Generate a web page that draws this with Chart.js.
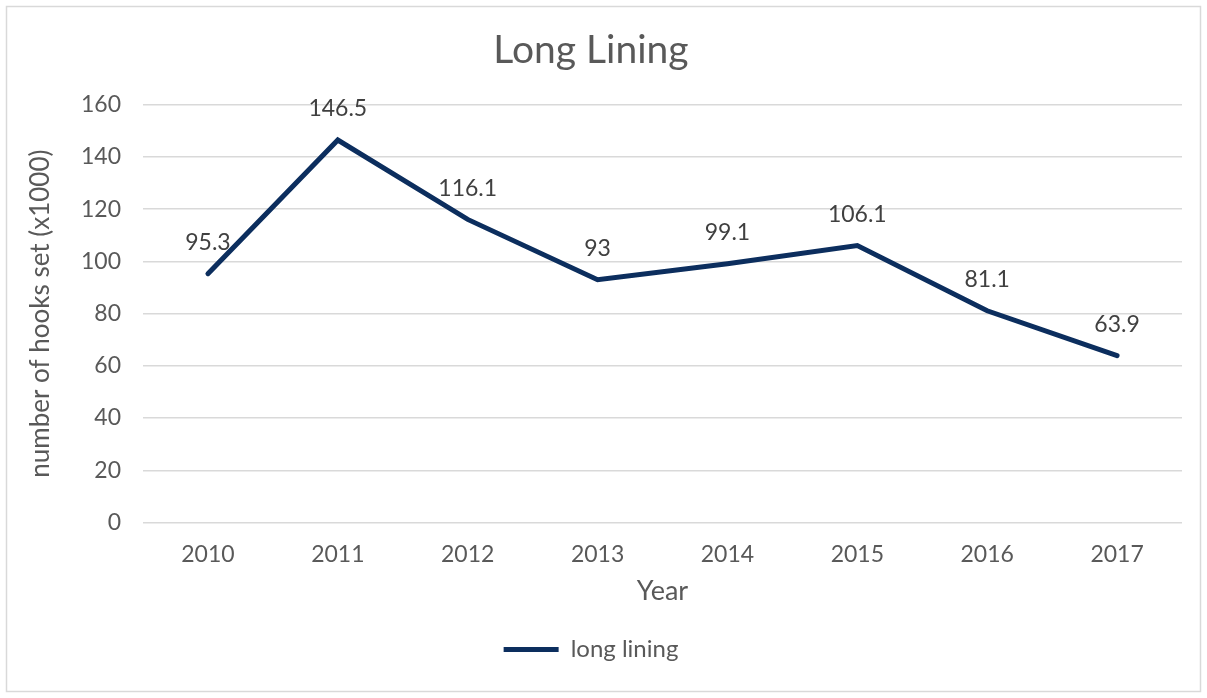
<!DOCTYPE html>
<html>
<head>
<meta charset="utf-8">
<script src="https://cdn.jsdelivr.net/npm/chart.js@4"></script>
<style>
  html, body { margin: 0; padding: 0; background: #fff; }
  #wrap { width: 1207px; height: 698px; position: relative; }
</style>
</head>
<body>
<div id="wrap"><canvas id="chart" width="1207" height="698"></canvas></div>
<script>
// ── Data ────────────────────────────────────
var years = ['2010', '2011', '2012', '2013', '2014', '2015', '2016', '2017'];
var hooks = [95.3, 146.5, 116.1, 93, 99.1, 106.1, 81.1, 63.9];
var yTicks = [0, 20, 40, 60, 80, 100, 120, 140, 160];

var FONT = 'Lato';
var GREY = '#595959';
var NAVY = '#0c2e5e';

// ── Plugins ─────────────────────────────────
var frame = {
  id: 'frame',
  beforeDraw: function(chart) {
    var c = chart.ctx;
    c.save();
    c.fillStyle = '#fff';
    c.fillRect(0, 0, chart.width, chart.height);
    c.strokeStyle = '#d9d9d9';
    c.lineWidth = 1.5;
    c.strokeRect(6.5, 6.5, chart.width - 13, chart.height - 13);
    c.restore();
  }
};

var valueLabels = {
  id: 'valueLabels',
  afterDatasetsDraw: function(chart) {
    var c = chart.ctx;
    var meta = chart.getDatasetMeta(0);
    c.save();
    c.font = '23px ' + FONT;
    c.fillStyle = '#404040';
    c.textAlign = 'center';
    c.textBaseline = 'middle';
    meta.data.forEach(function(pt, i) {
      c.fillText(String(hooks[i]), pt.x, pt.y - 31);
    });
    c.restore();
  }
};

new Chart(document.getElementById('chart'), {
  type: 'line',
  data: {
    labels: years,
    datasets: [{
      label: 'long lining',
      data: hooks,
      borderColor: NAVY,
      backgroundColor: NAVY,
      borderWidth: 5,
      borderCapStyle: 'round',
      pointRadius: 0,
      tension: 0
    }]
  },
  options: {
    responsive: false,
    animation: false,
    layout: { padding: { top: 0, right: 25, bottom: 26.5, left: 0 } },
    plugins: {
      title: {
        display: true,
        text: 'Long Lining',
        color: GREY,
        font: { family: FONT, size: 39, weight: 'normal', lineHeight: 1.2 },
        padding: { top: 27, bottom: 31 }
      },
      legend: {
        position: 'bottom',
        labels: {
          color: GREY,
          font: { family: FONT, size: 24 },
          usePointStyle: true,
          pointStyle: 'line',
          pointStyleWidth: 55,
          padding: 15
        }
      },
      tooltip: { enabled: false }
    },
    scales: {
      x: {
        offset: true,
        grid: { display: false, drawTicks: false },
        border: { display: false },
        ticks: { color: GREY, font: { family: FONT, size: 23 }, padding: 18 },
        title: {
          display: true,
          text: 'Year',
          color: GREY,
          font: { family: FONT, size: 27 },
          padding: { top: 0, bottom: 15 }
        },
        afterFit: function(s) { s.height = 100; }
      },
      y: {
        min: 0,
        max: 160,
        afterBuildTicks: function(s) {
          s.ticks = yTicks.map(function(v) { return { value: v }; });
        },
        grid: { color: '#d9d9d9', lineWidth: 1.5, drawTicks: false },
        border: { display: false },
        ticks: { color: GREY, font: { family: FONT, size: 23 }, padding: 22 },
        title: {
          display: true,
          text: 'number of hooks set (x1000)',
          color: GREY,
          font: { family: FONT, size: 26 },
          padding: { top: 25, bottom: 0 }
        },
        afterFit: function(s) { s.width = 143; }
      }
    }
  },
  plugins: [frame, valueLabels]
});
</script>
</body>
</html>
